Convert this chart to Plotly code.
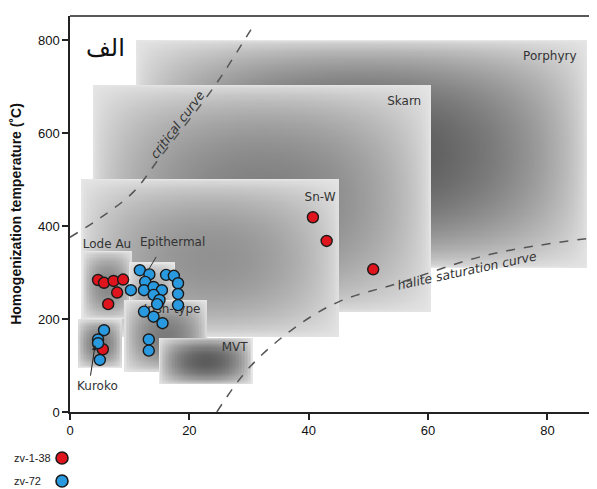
import numpy as np
import plotly.graph_objects as go

# ---------------- data ----------------
# fluid-inclusion deposit fields: salinity (wt% NaCl eq) and Th (°C) ranges
box_names = ["Porphyry", "Skarn", "Sn-W", "Lode Au", "Epithermal", "Irish-type", "Kuroko", "MVT"]
box_sal_min = [11.2, 3.9, 2.0, 2.2, 10.0, 9.2, 1.3, 15.0]
box_sal_max = [86.6, 60.3, 45.2, 10.4, 17.5, 22.9, 8.7, 30.5]
box_t_min = [310, 213, 161, 200, 150, 86, 95, 58]
box_t_max = [800, 703, 500, 345, 320, 240, 198, 159]

# label anchor of each field
label_sal = [80.4, 56.0, 41.9, 6.2, 17.2, 17.1, 4.6, 27.6]
label_t = [764, 667, 460, 359, 363, 219, 54, 137]

# sample zv-1-38 (red)
red_sal = [4.7, 5.7, 7.3, 8.9, 7.9, 6.4, 5.5, 40.7, 43.0, 50.8]
red_t = [284, 278, 282, 285, 257, 232, 135, 419, 368, 307]

# sample zv-72 (blue)
blue_sal = [11.7, 13.3, 12.6, 12.4, 14.0, 15.4, 14.0, 15.0, 14.6, 10.2,
            16.1, 17.4, 18.1, 18.1, 18.1, 12.4, 14.0, 15.5, 13.2, 13.2,
            5.7, 4.7, 4.7, 5.0]
blue_t = [305, 296, 280, 262, 269, 262, 252, 241, 232, 262,
          295, 293, 277, 254, 230, 216, 205, 191, 156, 132,
          176, 156, 148, 112]

# reference curves
crit_sal = [0, 5, 10.6, 15.1, 24, 27.3, 31]
crit_t = [376, 417, 473, 548, 697, 761, 837]
halite_sal = [24.6, 30, 37.5, 45, 55, 70, 88.3]
halite_t = [0, 95, 180, 237, 277, 338, 376]

x_ticks = [0, 20, 40, 60, 80]
y_ticks = [0, 200, 400, 600, 800]

# ---------------- styles ----------------
box_peak = [0.66, 0.50, 0.43, 0.47, 0.38, 0.52, 0.52, 0.64]
box_edge = 0.10
X_MAX, Y_MAX = 88.3, 852

# ---------------- shaded fields as a heatmap ----------------
xs = np.arange(0, X_MAX + 0.25, 0.25)
ys = np.arange(0, Y_MAX + 2.5, 2.5)
XX, YY = np.meshgrid(xs, ys)
Z = np.zeros_like(XX)
for x0, x1, y0, y1, pk in zip(box_sal_min, box_sal_max, box_t_min, box_t_max, box_peak):
    m = (XX >= x0) & (XX <= x1) & (YY >= y0) & (YY <= y1)
    u = np.clip((XX - x0) / (x1 - x0), 0, 1)
    v = np.clip((YY - y0) / (y1 - y0), 0, 1)
    val = box_edge + (pk - box_edge) * (np.sin(np.pi * u) ** 0.6) * (np.sin(np.pi * v) ** 0.6)
    Z[m] = val[m]
Z = np.round(Z, 3)

fig = go.Figure()
fig.add_trace(go.Heatmap(
    x=xs, y=ys, z=Z, zmin=0, zmax=1,
    colorscale=[[0, "#ffffff"], [1, "#000000"]],
    showscale=False, hoverinfo="skip", zsmooth=False,
))

# dashed curves
fig.add_trace(go.Scatter(x=crit_sal, y=crit_t, mode="lines",
                         line=dict(color="#555555", width=1.5, dash="dash", shape="spline"),
                         hoverinfo="skip", showlegend=False))
fig.add_trace(go.Scatter(x=halite_sal, y=halite_t, mode="lines",
                         line=dict(color="#555555", width=1.5, dash="dash", shape="spline"),
                         hoverinfo="skip", showlegend=False))

# field labels (under the points)
fig.add_trace(go.Scatter(x=label_sal, y=label_t, mode="text", text=box_names,
                         textfont=dict(family="DejaVu Sans", size=12, color="#333333"),
                         hoverinfo="skip", showlegend=False))

# points
fig.add_trace(go.Scatter(x=red_sal, y=red_t, mode="markers", name="zv-1-38",
                         marker=dict(size=11, color="#e0141c", line=dict(color="#1a1a1a", width=1.4)),
                         showlegend=False))
fig.add_trace(go.Scatter(x=blue_sal, y=blue_t, mode="markers", name="zv-72",
                         marker=dict(size=11, color="#2a9ae0", line=dict(color="#1a1a1a", width=1.4)),
                         showlegend=False))

ann = []
# curve labels
ann.append(dict(x=18.0, y=618, text="<i>critical curve</i>", showarrow=False, textangle=-53,
                font=dict(family="DejaVu Sans", size=12.5, color="#333333")))
ann.append(dict(x=66.5, y=305, text="<i>halite saturation curve</i>", showarrow=False, textangle=-12,
                font=dict(family="DejaVu Sans", size=12.5, color="#333333")))
# pointer lines
ann.append(dict(x=13.1, y=305, ax=14.6, ay=337, axref="x", ayref="y", text="",
                showarrow=True, arrowhead=0, arrowwidth=1, arrowcolor="#333333"))
ann.append(dict(x=4.2, y=144, ax=3.4, ay=75, axref="x", ayref="y", text="",
                showarrow=True, arrowhead=2, arrowsize=1, arrowwidth=1, arrowcolor="#222222"))
# panel letter
ann.append(dict(x=5.9, y=783, text="الف", showarrow=False,
                font=dict(family="DejaVu Sans", size=24, color="#111111")))
# legend labels
for txt, ys_ in [("zv-1-38", -46), ("zv-72", -69)]:
    ann.append(dict(xref="paper", yref="paper", x=0, y=0, xanchor="left", yanchor="middle",
                    xshift=-58, yshift=ys_, text=txt, showarrow=False,
                    font=dict(family="Liberation Sans", size=11, color="#222222")))

shapes = [
    dict(type="line", xref="paper", yref="paper", x0=0, x1=1, y0=1, y1=1,
         line=dict(color="#222222", width=1.5)),
    dict(type="circle", xref="paper", yref="paper", xsizemode="pixel", ysizemode="pixel",
         xanchor=0, yanchor=0, x0=-14, x1=-2, y0=-52, y1=-40,
         fillcolor="#e0141c", line=dict(color="#1a1a1a", width=1.6)),
    dict(type="circle", xref="paper", yref="paper", xsizemode="pixel", ysizemode="pixel",
         xanchor=0, yanchor=0, x0=-14, x1=-2, y0=-75, y1=-63,
         fillcolor="#2a9ae0", line=dict(color="#1a1a1a", width=1.6)),
]

# page body has an 8px margin, so the figure is sized to fit the 597x489 window
fig.update_layout(
    width=589, height=481,
    margin=dict(l=62, r=0, t=8, b=77),
    paper_bgcolor="white", plot_bgcolor="white",
    showlegend=False,
    annotations=ann, shapes=shapes,
    font=dict(family="Liberation Sans", color="#111111"),
)
fig.update_xaxes(range=[0, X_MAX], tickvals=x_ticks, showgrid=False, zeroline=False,
                 showline=True, linecolor="#222222", linewidth=1.5,
                 ticks="outside", ticklen=6, tickwidth=1.5, tickcolor="#222222",
                 tickfont=dict(family="Liberation Sans", size=13, color="#111111"))
fig.update_yaxes(range=[0, Y_MAX], tickvals=y_ticks, showgrid=False, zeroline=False,
                 showline=True, linecolor="#222222", linewidth=1.5,
                 ticks="outside", ticklen=6, tickwidth=1.5, tickcolor="#222222",
                 tickfont=dict(family="Liberation Sans", size=13, color="#111111"),
                 title=dict(text="<b>Homogenization temperature (˚C)</b>", standoff=16,
                            font=dict(family="Liberation Sans", size=14, color="#111111")))

fig.write_html("out.html")
